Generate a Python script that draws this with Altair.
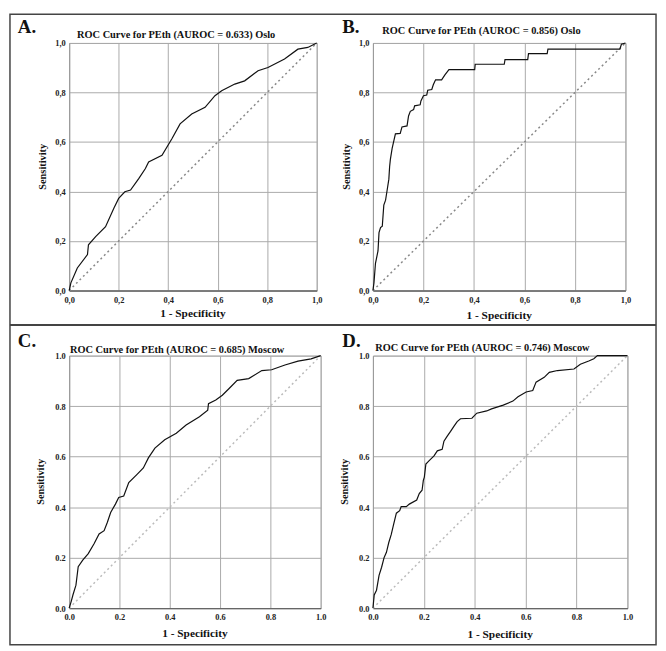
import altair as alt
import pandas as pd

FONT = "Liberation Serif"

# ---- data ----
fpr_a = [0, .007, .033, .074, .078, .107, .147, .181, .2, .225, .248, .281, .308, .321, .375, .415, .448, .495, .549, .589, .616, .669, .709, .763, .803, .870, .924, .964, 1]
tpr_a = [0, .031, .091, .145, .185, .218, .258, .333, .372, .399, .406, .452, .493, .519, .546, .613, .673, .713, .740, .787, .807, .834, .847, .888, .901, .935, .975, .982, 1]

fpr_b = [0, .004, .01, .02, .024, .03, .037, .043, .05, .056, .063, .066, .069, .076, .089, .108, .115, .135, .141, .148, .161, .165, .187, .19, .2, .213, .217, .233, .239, .248, .272, .285, .301, .403, .405, .52, .523, .613, .616, .69, .693, .978, .984, 1]
tpr_b = [0, .031, .11, .16, .234, .254, .26, .345, .365, .404, .45, .50, .53, .574, .633, .635, .661, .665, .705, .724, .731, .746, .75, .766, .787, .79, .809, .812, .831, .851, .851, .871, .892, .892, .914, .914, .933, .933, .957, .957, .975, .975, .995, 1]

fpr_c = [0, .008, .015, .027, .036, .054, .076, .099, .119, .139, .152, .165, .184, .197, .217, .237, .269, .295, .315, .341, .38, .426, .465, .518, .551, .554, .583, .609, .635, .668, .714, .766, .805, .858, .91, .962, 1]
tpr_c = [0, .026, .052, .091, .164, .19, .216, .255, .294, .307, .34, .379, .412, .438, .444, .497, .529, .555, .595, .634, .667, .693, .725, .758, .784, .81, .824, .843, .869, .902, .909, .941, .944, .963, .978, .987, 1]

fpr_d = [0, .005, .014, .024, .034, .044, .053, .062, .072, .081, .092, .105, .111, .131, .143, .172, .182, .193, .198, .202, .208, .221, .24, .253, .272, .279, .292, .305, .318, .331, .344, .389, .408, .447, .466, .512, .55, .57, .602, .628, .641, .673, .693, .725, .79, .815, .848, .868, .882, 1]
tpr_d = [0, .052, .071, .13, .162, .201, .221, .259, .292, .331, .376, .386, .402, .402, .412, .428, .454, .467, .506, .519, .571, .584, .603, .623, .629, .661, .681, .70, .72, .739, .75, .752, .772, .781, .789, .804, .82, .837, .856, .862, .895, .914, .934, .941, .947, .966, .979, .988, 1, 1]

diag_x = [0, 1]
diag_y = [0, 1]
ticks = [0, 0.2, 0.4, 0.6, 0.8, 1.0]

letters = ["A.", "B.", "C.", "D."]
titles = [
    "ROC Curve for PEth (AUROC = 0.633) Oslo",
    "ROC Curve for PEth (AUROC = 0.856) Oslo",
    "ROC Curve for PEth (AUROC = 0.685) Moscow",
    "ROC Curve for PEth (AUROC = 0.746) Moscow",
]
x_title = "1 - Specificity"
y_title = "Sensitivity"

one = pd.DataFrame({"k": [0]})


def txt(text, x, y, size, angle=0, align="center"):
    return alt.Chart(one).mark_text(
        font=FONT, fontSize=size, fontWeight="bold", color="#111",
        align=align, baseline="middle", angle=angle,
    ).encode(x=alt.value(x), y=alt.value(y), text=alt.value(text))


def panel(fpr, tpr, w, h, letter, title, title_dx, title_dy, letter_dx, letter_dy,
          ytitle_dx, xtitle_dy, comma, diag_color, grid_color, frame=False):
    df = pd.DataFrame({"fpr": fpr, "tpr": tpr, "order": list(range(len(fpr)))})
    if comma:
        lab = "replace(format(datum.value, '.1f'), '.', ',')"
    else:
        lab = "format(datum.value, '.1f')"
    common = dict(values=ticks, labelExpr=lab, title=None, grid=True,
                  gridColor=grid_color, gridWidth=1, tickSize=0,
                  labelFont=FONT, labelFontSize=8.5, labelFontWeight="bold",
                  labelColor="#222", labelFlush=False)
    xa = alt.Axis(labelPadding=5, domainColor="#666", domainWidth=1.5, **common)
    ya = alt.Axis(labelPadding=4, domainColor="#999", domainWidth=1, **common)
    xs = alt.Scale(domain=[0, 1], nice=False)
    ys = alt.Scale(domain=[0, 1], nice=False)

    ddf = pd.DataFrame({"fpr": diag_x, "tpr": diag_y})
    diag = alt.Chart(ddf).mark_line(color=diag_color, strokeDash=[2, 3], strokeWidth=1.5).encode(
        x=alt.X("fpr:Q", scale=xs, axis=xa), y=alt.Y("tpr:Q", scale=ys, axis=ya))
    curve = alt.Chart(df).mark_line(color="#111", strokeWidth=1.2).encode(
        x="fpr:Q", y="tpr:Q", order="order:Q")

    layers = []
    if frame:
        layers.append(alt.Chart(one).mark_rect(fillOpacity=0, stroke="#444", strokeWidth=1.5).encode(
            x=alt.value(-60), x2=alt.value(595), y=alt.value(-29), y2=alt.value(610)))
        layers.append(alt.Chart(one).mark_rule(color="#444", strokeWidth=2).encode(
            x=alt.value(-60), x2=alt.value(595), y=alt.value(286)))
    layers += [
        diag, curve,
        txt(title, w / 2 + title_dx, title_dy, 10.5),
        txt(letter, letter_dx, letter_dy, 19, align="left"),
        txt(y_title, ytitle_dx, h / 2, 10.5, angle=270),
        txt(x_title, w / 2, h + xtitle_dy, 11.5),
    ]
    return alt.layer(*layers).properties(width=w, height=h)


pa = panel(fpr_a, tpr_a, 251, 251, letters[0], titles[0], -17, -8, -52, -16, -26, 24, True, "#888", "#aaa", frame=True)
pb = panel(fpr_b, tpr_b, 256, 251, letters[1], titles[1], -18, -12, -31, -16, -26, 26, True, "#888", "#aaa")
pc = panel(fpr_c, tpr_c, 255, 256, letters[2], titles[2], -18, -6, -52, -15, -28, 26, False, "#bbb", "#aaa")
pd_ = panel(fpr_d, tpr_d, 258, 256, letters[3], titles[3], -18, -8, -31, -15, -28, 27, False, "#bbb", "#aaa")

chart = alt.concat(
    pa, pb, pc, pd_, columns=2,
    spacing={"row": 66, "column": 53}, bounds="flush", align="each",
).properties(padding=0).configure_view(stroke="#aaa")

chart.save("out.html", embed_options={"renderer": "svg", "actions": False})
